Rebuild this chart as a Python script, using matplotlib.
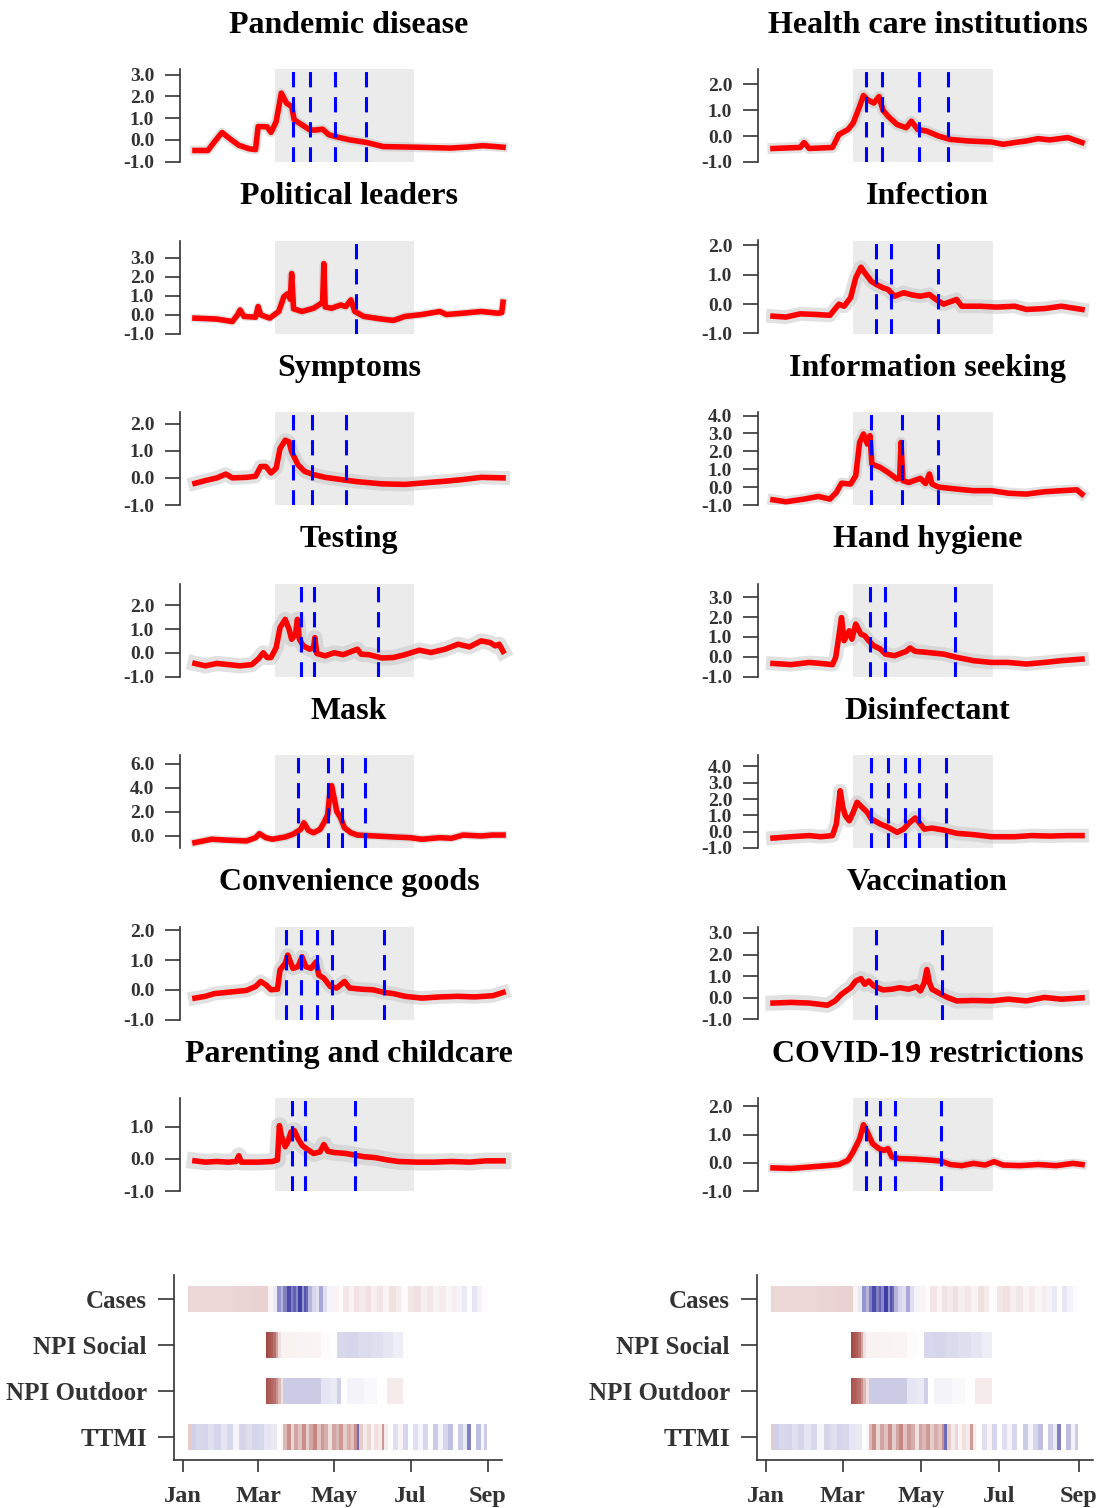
import matplotlib
matplotlib.use("Agg")
import matplotlib.pyplot as plt
from matplotlib.colors import LinearSegmentedColormap, Normalize
import numpy as np

plt.rcParams['font.family'] = ['Liberation Serif', 'DejaVu Serif']
plt.rcParams['font.weight'] = 'bold'

# ---- time series (day of year 2020, standardised values) ----
pandemic_day = [4,14,19,25,30,38,46,51,53,60,63,67,71,75,79,81,85,93,97,103,108,115,124,137,150,176,202,216,227,235,243]
pandemic_val = [-0.49,-0.49,-0.1,0.34,0.1,-0.25,-0.41,-0.45,0.61,0.6,0.34,0.84,2.15,1.69,1.53,0.92,0.77,0.46,0.45,0.49,0.23,0.12,0.0,-0.12,-0.31,-0.34,-0.38,-0.33,-0.27,-0.3,-0.34]
pandemic_cut = [80, 93, 113, 137]

health_day = [4,25,28,32,50,55,62,66,71,74,77,82,86,89,93,100,107,111,116,123,132,141,155,173,182,191,200,209,218,232,243]
health_val = [-0.48,-0.44,-0.25,-0.48,-0.44,0.06,0.25,0.5,1.14,1.56,1.4,1.27,1.52,1.0,0.76,0.44,0.32,0.57,0.25,0.19,0.0,-0.13,-0.19,-0.23,-0.32,-0.25,-0.19,-0.1,-0.15,-0.06,-0.25]
health_cut = [76, 88, 117, 139]

leaders_day = [4,21,33,37,39,42,51,53,55,62,69,73,76,78,79,80.5,87,96,102,103,104,105,110,117,121,125,128,135,149,158,167,180,194,199,212,226,239,242,243]
leaders_val = [-0.19,-0.24,-0.37,-0.02,0.24,-0.1,-0.14,0.42,-0.02,-0.19,0.16,0.94,1.1,0.8,2.16,0.3,0.16,0.33,0.59,0.6,2.68,0.4,0.33,0.5,0.42,0.77,0.16,-0.1,-0.24,-0.31,-0.1,0.0,0.16,0.0,0.07,0.16,0.07,0.1,0.65]
leaders_cut = [129]

infection_day = [4,14,25,37,48,55,59,64,68,72,75,80,84,89,93,98,105,112,118,125,130,136,146,150,164,177,191,200,214,227,243]
infection_val = [-0.41,-0.44,-0.33,-0.35,-0.38,0.0,-0.07,0.22,0.9,1.26,1.07,0.78,0.67,0.56,0.5,0.27,0.39,0.31,0.27,0.33,0.16,0.0,0.16,-0.07,-0.07,-0.1,-0.07,-0.18,-0.15,-0.07,-0.18]
infection_cut = [84, 95, 132]

symptoms_day = [4,12,21,28,33,44,51,55,59,63,67,70,74,77,79,84,89,96,105,117,130,149,167,180,199,212,226,243]
symptoms_val = [-0.2,-0.1,0.0,0.14,0.0,0.02,0.06,0.42,0.42,0.18,0.36,1.08,1.39,1.33,0.96,0.48,0.24,0.12,0.02,-0.06,-0.14,-0.22,-0.24,-0.19,-0.12,-0.06,0.02,0.0]
symptoms_cut = [80, 95, 121]

info_day = [4,14,28,39,48,53,57,64,68,71,74,77,79,80.5,87,93,100,102,103,104.5,109,118,122,125,127,132,146,159,173,186,200,214,227,239,243]
info_val = [-0.71,-0.82,-0.67,-0.52,-0.67,-0.3,0.22,0.17,0.64,2.5,2.97,2.41,2.88,1.29,1.1,0.82,0.45,0.5,2.5,0.36,0.26,0.49,0.2,0.73,0.17,0.0,-0.11,-0.2,-0.2,-0.34,-0.39,-0.26,-0.2,-0.15,-0.39]
info_cut = [80, 104, 132]

testing_day = [4,12,21,30,39,48,53,57,60,63,67,70,74,77,79,82,83.5,85,88,93,96,97,98.5,105,112,119,130,133,139,149,158,167,178,187,198,208,217,226,233,237,240,243]
testing_val = [-0.45,-0.55,-0.45,-0.5,-0.55,-0.5,-0.27,0.0,-0.2,-0.2,0.22,1.06,1.41,0.99,0.57,0.78,1.41,0.57,0.29,0.15,0.22,0.64,-0.03,-0.13,0.0,-0.08,0.15,-0.06,-0.08,-0.22,-0.2,-0.08,0.11,0.01,0.15,0.36,0.25,0.5,0.43,0.29,0.36,0.06]
testing_cut = [86, 96, 146]

hand_day = [4,18,32,41,50,52.5,55,57,59,63,65,68,72,75,78,82,87,91,98,107,110,114,123,136,146,159,173,186,200,214,227,243]
hand_val = [-0.34,-0.4,-0.29,-0.34,-0.4,-0.03,1.06,1.98,0.81,1.31,0.89,1.65,1.14,1.06,0.81,0.55,0.39,0.13,0.05,0.27,0.44,0.27,0.22,0.13,-0.03,-0.2,-0.29,-0.29,-0.37,-0.29,-0.2,-0.12]
hand_cut = [79, 91, 145]

mask_day = [4,17,30,44,51,54,59,64,74,80,86,88.5,92,96,101,104,107,108.5,110,112,114,117,120,125,130,144,158,171,180,194,203,212,226,235,243]
mask_val = [-0.55,-0.27,-0.35,-0.41,-0.14,0.19,-0.14,-0.27,-0.08,0.14,0.55,1.1,0.47,0.27,0.55,1.1,1.78,3.42,4.19,3.15,2.05,1.51,0.68,0.27,0.08,0.0,-0.08,-0.14,-0.27,-0.14,-0.19,0.08,0.0,0.08,0.08]
mask_cut = [84, 107, 118, 136]

disinf_day = [4,18,32,41,50,53,56,58,60,63,66,69,73,77,80,87,93,100,105,109,114,117,121,127,136,146,159,173,191,204,218,232,243]
disinf_val = [-0.39,-0.31,-0.24,-0.31,-0.24,0.47,2.51,1.49,0.98,0.67,1.18,1.8,1.49,1.18,0.78,0.47,0.27,-0.04,0.16,0.51,0.84,0.57,0.16,0.22,0.1,-0.1,-0.18,-0.31,-0.31,-0.24,-0.27,-0.24,-0.24]
disinf_cut = [80, 93, 106, 117, 138]

goods_day = [4,12,19,28,35,44,51,55,59,63,68,70,74,76,78,80,84,87,90,94,98,100,104,109,114,120,124,133,142,151,158,167,180,194,208,221,235,243]
goods_val = [-0.28,-0.22,-0.13,-0.09,-0.06,-0.02,0.11,0.28,0.17,0.0,0.02,0.67,0.89,1.17,0.94,0.72,0.78,1.11,0.78,0.72,0.94,0.5,0.39,0.11,0.06,0.28,0.06,0.02,0.0,-0.09,-0.13,-0.22,-0.28,-0.24,-0.22,-0.24,-0.2,-0.09]
goods_cut = [75, 86, 99, 110, 151]

vacc_day = [4,18,32,46,52,57,64,68,72,75,78,82,89,96,102,109,115,118,121,123,125,127,134,139,146,159,173,186,200,214,227,243]
vacc_val = [-0.24,-0.21,-0.24,-0.34,-0.14,0.17,0.47,0.78,0.89,0.63,0.78,0.55,0.37,0.4,0.47,0.4,0.52,0.32,0.7,1.31,0.7,0.4,0.17,0.02,-0.14,-0.12,-0.14,-0.06,-0.14,0.02,-0.06,0.0]
vacc_cut = [84, 135]

parent_day = [4,12,21,30,36,38,40,53,64,68,69.5,71,74,76,78.5,81,84,87,90,96,101,104,107,112,121,128,135,144,153,162,176,189,203,217,230,243]
parent_val = [-0.06,-0.1,-0.08,-0.1,-0.08,0.1,-0.1,-0.1,-0.08,-0.03,1.04,0.73,0.38,0.53,0.84,0.89,0.63,0.43,0.33,0.17,0.22,0.45,0.24,0.2,0.17,0.12,0.07,0.04,-0.03,-0.08,-0.1,-0.1,-0.08,-0.1,-0.06,-0.06]
parent_cut = [79, 89, 128]

restrict_day = [4,18,32,46,55,62,66,71,74,77,81,86,90,93,96,102,114,127,134,141,150,159,168,175,182,195,209,223,236,243]
restrict_val = [-0.18,-0.2,-0.15,-0.1,-0.06,0.09,0.39,0.85,1.35,1.09,0.68,0.5,0.44,0.5,0.21,0.15,0.13,0.09,0.06,-0.06,-0.1,-0.02,-0.08,0.04,-0.08,-0.1,-0.06,-0.1,-0.02,-0.06]
restrict_cut = [76, 87, 98, 134]

npi_period = [66, 174]

# ---- heatmap rows (block start days, end day, value; + = red, - = blue) ----
cases_start = [4,20,40,55,68,72,75,78,80,83,86,88,90,92,95,97,98,100,103,106,109,112,115,120,125,128,133,137,141,146,
               150,155,160,165,170,174,180,185,190,195,200,205,210,215,219,223,227,231,235,239]
cases_val = [0.2,0.2,0.21,0.22,0.05,-0.1,-0.5,-0.35,-0.6,-0.85,-0.6,-0.75,-0.55,-0.9,-0.5,-0.8,-0.7,-0.35,-0.2,-0.15,
             -0.4,-0.15,-0.05,0.05,0.02,0.12,0.06,0.14,0.1,0.15,0.08,0.12,0.06,0.15,0.1,0.02,0.12,0.15,0.08,0.12,
             0.06,0.1,0.04,0.08,-0.05,-0.1,0.02,-0.12,-0.06,0.02]
cases_end = 243
social_start = [66,68,70,72,74,76,78,90,100,110,118,123,130,140,150,160,168]
social_val = [0.9,0.85,0.8,0.7,0.45,0.15,0.07,0.06,0.05,0.02,0.0,-0.18,-0.2,-0.17,-0.15,-0.12,-0.08]
social_end = 176
outdoor_start = [66,68,70,72,74,76,78,80,95,110,118,123,126,131,145,155,163]
outdoor_val = [0.85,0.8,0.75,0.7,0.55,0.35,0.15,-0.25,-0.25,-0.12,-0.1,-0.22,0.0,-0.06,-0.03,0.0,0.1]
outdoor_end = 176
ttmi_start = [4,6,10,15,20,25,30,35,40,45,50,55,60,65,70,75,78,80,83,86,89,92,95,98,101,104,107,110,113,116,
              119,122,125,128,131,134,137,139,141,144,147,150,153,156,159,161,164,168,172,176,180,184,188,192,196,200,
              204,208,212,216,220,224,227,230,234,238,241]
ttmi_val = [0.25,-0.22,-0.18,-0.2,-0.15,-0.2,-0.12,-0.18,-0.05,-0.2,-0.15,-0.2,-0.18,-0.12,-0.1,0.0,0.05,0.35,0.55,0.2,
            0.45,0.3,0.55,0.25,0.45,0.6,0.3,0.5,0.4,0.15,0.45,0.35,0.5,0.25,0.4,0.3,0.55,-0.7,0.25,0.1,
            0.2,0.05,0.15,0.1,0.5,0.1,0.0,-0.15,0.05,-0.2,0.0,-0.15,-0.05,-0.2,0.0,-0.25,-0.05,-0.2,-0.3,0.0,
            -0.25,-0.1,-0.6,0.0,-0.3,-0.05,-0.25]
ttmi_end = 243
row_labels = ["Cases", "NPI Social", "NPI Outdoor", "TTMI"]
month_ticks = [0, 60, 121, 182, 244]
month_labels = ["Jan", "Mar", "May", "Jul", "Sep"]

W, H = 1106, 1508
fig = plt.figure(figsize=(W / 100, H / 100), dpi=100)

def box(x0, y0, x1, y1):
    return [x0 / W, 1 - y1 / H, (x1 - x0) / W, (y1 - y0) / H]

TXT = '#333333'

# title, days, values, cuts, ylim, ticks, cloud width, column, row
panels = [
    ("Pandemic disease", pandemic_day, pandemic_val, pandemic_cut, (-1.02, 3.26), [-1, 0, 1, 2, 3], 7, 0, 0),
    ("Political leaders", leaders_day, leaders_val, leaders_cut, (-1.0, 3.9), [-1, 0, 1, 2, 3], 6, 0, 1),
    ("Symptoms", symptoms_day, symptoms_val, symptoms_cut, (-1.0, 2.43), [-1, 0, 1, 2], 10, 0, 2),
    ("Testing", testing_day, testing_val, testing_cut, (-1.0, 2.92), [-1, 0, 1, 2], 11, 0, 3),
    ("Mask", mask_day, mask_val, mask_cut, (-1.0, 6.75), [0, 2, 4, 6], 6, 0, 4),
    ("Convenience goods", goods_day, goods_val, goods_cut, (-1.0, 2.13), [-1, 0, 1, 2], 10, 0, 5),
    ("Parenting and childcare", parent_day, parent_val, parent_cut, (-1.0, 1.9), [-1, 0, 1], 12, 0, 6),
    ("Health care institutions", health_day, health_val, health_cut, (-1.0, 2.58), [-1, 0, 1, 2], 8, 1, 0),
    ("Infection", infection_day, infection_val, infection_cut, (-1.0, 2.17), [-1, 0, 1, 2], 10, 1, 1),
    ("Information seeking", info_day, info_val, info_cut, (-1.0, 4.2), [-1, 0, 1, 2, 3, 4], 8, 1, 2),
    ("Hand hygiene", hand_day, hand_val, hand_cut, (-1.0, 3.7), [-1, 0, 1, 2, 3], 10, 1, 3),
    ("Disinfectant", disinf_day, disinf_val, disinf_cut, (-1.0, 4.7), [-1, 0, 1, 2, 3, 4], 10, 1, 4),
    ("Vaccination", vacc_day, vacc_val, vacc_cut, (-1.0, 3.3), [-1, 0, 1, 2, 3], 11, 1, 5),
    ("COVID-19 restrictions", restrict_day, restrict_val, restrict_cut, (-1.0, 2.3), [-1, 0, 1, 2], 7, 1, 6),
]

col_x = [(180, 518), (758, 1097)]
for title, days, vals, cuts, ylim, ticks, cw, col, row in panels:
    x0, x1 = col_x[col]
    top = 69 + 171.5 * row
    ax = fig.add_axes(box(x0, top, x1, top + 93))
    ax.axvspan(npi_period[0], npi_period[1], color='#ebebeb', lw=0, zorder=0)
    ax.plot(days, vals, color='#c4c4c4', lw=cw, alpha=0.5, solid_joinstyle='round', zorder=1)
    ax.plot(days, vals, color='red', lw=4, solid_joinstyle='round', zorder=2)
    for c in cuts:
        ax.axvline(c, color='blue', lw=2.2, linestyle=(0, (5, 3.2)), zorder=3)
    ax.set_xlim(-7.6, 254.6)
    ax.set_ylim(*ylim)
    ax.set_yticks(ticks)
    ax.set_yticklabels(["%.1f" % t for t in ticks])
    ax.set_xticks([])
    for s in ['top', 'right', 'bottom']:
        ax.spines[s].set_visible(False)
    ax.spines['left'].set_color(TXT)
    ax.spines['left'].set_linewidth(1.2)
    ax.tick_params(axis='y', direction='out', length=10.5, width=1.2, color=TXT,
                   labelsize=14, labelcolor=TXT, pad=8)
    ax.annotate(title, xy=(0.5, 1), xycoords='axes fraction', xytext=(0, 31.5),
                textcoords='offset points', ha='center', va='center',
                fontsize=23, fontweight='bold', color='black')

cmap = LinearSegmentedColormap.from_list('rb', ['#2b2b9b', '#ffffff', '#9b3530'])
norm = Normalize(-1, 1)
rows = [(cases_start, cases_val, cases_end), (social_start, social_val, social_end),
        (outdoor_start, outdoor_val, outdoor_end), (ttmi_start, ttmi_val, ttmi_end)]

for hx0, hx1, d0, d1 in [(174, 502, -7.2, 255.2), (757, 1093, -7.0, 254.9)]:
    ax = fig.add_axes(box(hx0, 1275, hx1, 1460))
    for i, (st, v, end) in enumerate(rows):
        y = 4 - i
        edges = list(st) + [end]
        ax.pcolormesh(edges, [y - 0.28, y + 0.28], [v], cmap=cmap, norm=norm,
                      shading='flat', edgecolors='none', antialiased=False)
    ax.set_xlim(d0, d1)
    ax.set_ylim(0.5, 4.52)
    ax.set_yticks([4, 3, 2, 1])
    ax.set_yticklabels(row_labels)
    ax.set_xticks(month_ticks)
    ax.set_xticklabels(month_labels)
    for s in ['top', 'right']:
        ax.spines[s].set_visible(False)
    for s in ['left', 'bottom']:
        ax.spines[s].set_color(TXT)
        ax.spines[s].set_linewidth(1.2)
    ax.tick_params(axis='y', direction='out', length=11.5, width=1.2, color=TXT,
                   labelsize=18, labelcolor=TXT, pad=8)
    ax.tick_params(axis='x', direction='out', length=8.6, width=1.2, color=TXT,
                   labelsize=17.5, labelcolor=TXT, pad=10)

fig.savefig("out.png", dpi=100)
